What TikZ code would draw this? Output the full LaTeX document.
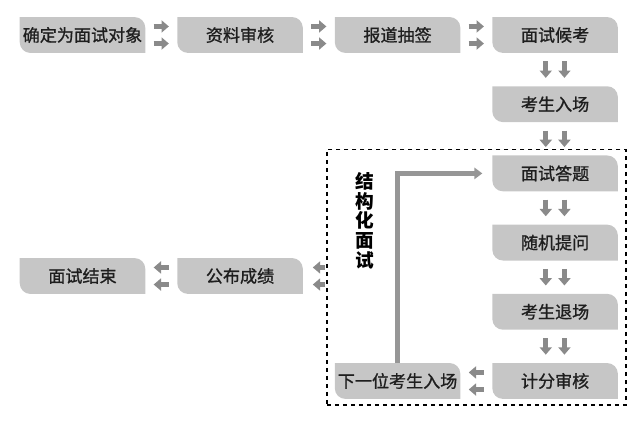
\documentclass[tikz,border=0pt]{standalone}
\usepackage{fontspec}
\setmainfont{Noto Sans CJK SC}
\newfontfamily\boxfont[FakeBold=1]{Noto Sans CJK SC}
\usetikzlibrary{positioning,arrows.meta,fit,backgrounds}
\definecolor{boxgrey}{HTML}{C6C6C6}
\definecolor{arrgrey}{HTML}{8A8A8A}
\definecolor{ink}{HTML}{1E1E1E}
\tikzset{stage/.style={minimum width=93.75pt,minimum height=26.5pt,inner sep=0pt,text=ink,font=\boxfont\fontsize{12.8}{14}\selectfont},
         twin/.style={-{Triangle[length=5.5pt,width=9pt]},arrgrey,line width=3.6pt,shorten <=6.3pt,shorten >=6.3pt},
         loopback/.style={-{Triangle[length=6pt,width=8.5pt]},arrgrey!90,line width=3.6pt,shorten >=7.5pt},
         dashframe/.style={draw,line width=1.4pt,dash pattern=on 3pt off 3pt,inner xsep=6pt,inner ysep=4.5pt},
         vlabel/.style={align=center,font=\fontsize{14}{14.7}\selectfont\bfseries}}

\begin{document}
\begin{tikzpicture}[node distance=25pt and 24pt]
 \useasboundingbox (0,0) rectangle (480pt,-316.5pt);
 \node[stage] (s1) at (61.875pt,-26.25pt) {确定为面试对象};
 \node[stage,right=of s1] (s2) {资料审核};
 \node[stage,right=of s2] (s3) {报道抽签};
 \node[stage,right=of s3] (s4) {面试候考};
 \node[stage,below=of s4] (s5) {考生入场};
 \node[stage,below=of s5] (q6) {面试答题};
 \node[stage,below=of q6] (q7) {随机提问};
 \node[stage,below=of q7] (q8) {考生退场};
 \node[stage,below=of q8] (q9) {计分审核};
 \node[stage,left=of q9] (nxt) {下一位考生入场};
 \node[stage] (fin) at (61.875pt,-207pt) {面试结束};
 \node[stage,right=of fin] (pub) {公布成绩};
 \node[dashframe,fit=(q6)(q9)(nxt)] (frm) {};
 \node[vlabel] (lbl) at ([xshift=29pt,yshift=3pt]frm.west |- q7.north) {结\\构\\化\\面\\试};
 \begin{scope}[on background layer]
  \foreach \n in {s1,s2,s3,s4,s5,q6,q7,q8,q9,nxt,fin,pub}
   \fill[boxgrey] (\n.north west) -- ([xshift=-8pt]\n.north east) arc[start angle=90,end angle=0,radius=8pt]
     -- (\n.south east) -- ([xshift=8pt]\n.south west) arc[start angle=270,end angle=180,radius=8pt] -- cycle;
 \end{scope}
 \foreach \a/\b in {s1/s2,s2/s3,s3/s4}
  \foreach \d in {6.4pt,-6.4pt}
   \draw[twin] ([yshift=\d]\a.east) -- ([yshift=\d]\b.west);
 \foreach \a/\b in {q9/nxt,pub/fin}
  \foreach \d in {6.4pt,-6.4pt}
   \draw[twin] ([yshift=\d]\a.west) -- ([yshift=\d]\b.east);
 \foreach \a/\b in {s4/s5,s5/q6,q6/q7,q7/q8,q8/q9}
  \foreach \d in {7pt,-7pt}
   \draw[twin] ([xshift=\d]\a.south) -- ([xshift=\d]\b.north);
 \foreach \d in {6.4pt,-6.4pt}
  \draw[twin,shorten <=0.5pt,shorten >=7.5pt] ([yshift=\d]frm.west |- pub.east) -- ([yshift=\d]pub.east);
 \draw[loopback] (nxt.north) |- (q6.west);
\end{tikzpicture}
\end{document}
